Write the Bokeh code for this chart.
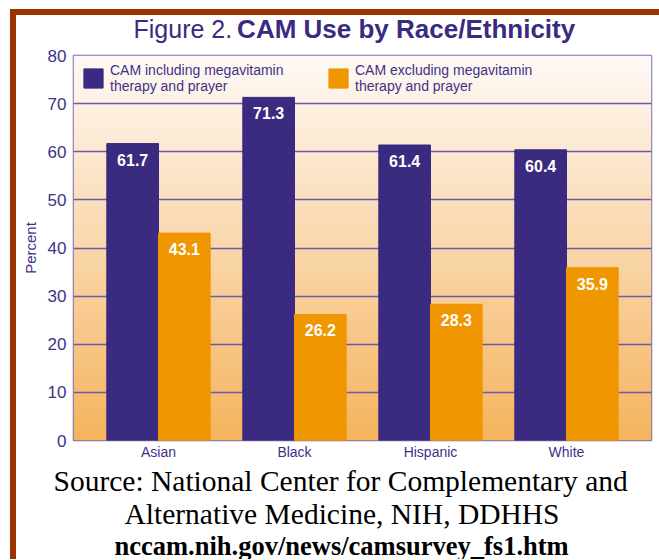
from bokeh.plotting import figure
from bokeh.layouts import column
from bokeh.models import (ColumnDataSource, LabelSet, Label, Legend, LegendItem,
                          Range1d, FixedTicker, Title)
from bokeh.core.properties import value
from bokeh.embed import file_html
from bokeh.resources import INLINE
import numpy as np

# ---- data ----
categories = ["Asian", "Black", "Hispanic", "White"]
including = [61.7, 71.3, 61.4, 60.4]
excluding = [43.1, 26.2, 28.3, 35.9]
series_names = ["CAM including megavitamin\ntherapy and prayer",
                "CAM excluding megavitamin\ntherapy and prayer"]
y_ticks = [0, 10, 20, 30, 40, 50, 60, 70, 80]
title_regular = "Figure 2."
title_bold = "CAM Use by Race/Ethnicity"
source_lines = ["Source: National Center for Complementary and",
                "Alternative Medicine, NIH, DDHHS"]
source_url = "nccam.nih.gov/news/camsurvey_fs1.htm"

# ---- styles ----
PURPLE = "#3a2a80"
ORANGE = "#f09600"
TEXT_PURPLE = "#3f3188"
GRID = "#6a5aab"
RED = "#993300"
SANS = "Liberation Sans"
SERIF = "Liberation Serif"
W = 643  # content width inside the red border

# ---- title panel (its frame is aligned with the chart frame by the column) ----
TH = 30
tp = figure(width=W, height=TH, min_border=0, x_range=Range1d(0, W),
            y_range=Range1d(0, TH), x_axis_location=None, y_axis_location=None,
            output_backend="svg", toolbar_location=None)
tp.outline_line_color = None
tp.border_fill_color = "white"
tp.background_fill_color = "white"
tp.grid.visible = False
tp.add_layout(Label(x=176.5, y=TH - 13, text=title_regular, text_align="right",
                    text_baseline="middle", text_font=SANS, text_font_size="25px",
                    text_color=PURPLE))
tp.add_layout(Label(x=182, y=TH - 13, text=title_bold, text_align="left",
                    text_baseline="middle", text_font=SANS, text_font_style="bold",
                    text_font_size="26px", text_color=PURPLE))

# ---- main chart ----
n = len(categories)
bw = 0.38
centers = [i + 0.5 for i in range(n)]
src_in = ColumnDataSource(dict(x=[c - bw / 2 for c in centers], top=including,
                               label=[f"{v:.1f}" for v in including]))
src_ex = ColumnDataSource(dict(x=[c + bw / 2 for c in centers], top=excluding,
                               label=[f"{v:.1f}" for v in excluding]))

p = figure(frame_width=578, frame_height=385,
           min_border_left=57, min_border_right=8, min_border_top=10, min_border_bottom=0,
           x_range=Range1d(-0.125, n + 0.125), y_range=Range1d(0, 80),
           output_backend="svg", toolbar_location=None)
p.border_fill_color = "white"
p.outline_line_color = "#7d6db5"
p.outline_line_width = 1.5

# gradient background (style only)
N = 256
t = np.linspace(0, 1, N)
bottom = np.array([245, 180, 94])
top = np.array([255, 250, 247])
cols = (bottom[None, :] * (1 - t[:, None]) + top[None, :] * t[:, None]).astype(np.uint32)
img = np.empty((N, 1), dtype=np.uint32)
img[:, 0] = (255 << 24) | (cols[:, 2] << 16) | (cols[:, 1] << 8) | cols[:, 0]
p.image_rgba(image=[img], x=-0.125, y=0, dw=n + 0.25, dh=80, level="image")

r_in = p.vbar(x="x", top="top", width=bw, source=src_in, fill_color=PURPLE, line_color=PURPLE)
r_ex = p.vbar(x="x", top="top", width=bw, source=src_ex, fill_color=ORANGE, line_color=ORANGE)

for s in (src_in, src_ex):
    p.add_layout(LabelSet(x="x", y="top", text="label", source=s, y_offset=-16,
                          text_align="center", text_baseline="middle", text_color="white",
                          text_font_style="bold", text_font_size="16px",
                          text_font=value(SANS)))

# axes
p.xaxis.ticker = FixedTicker(ticks=centers)
p.xaxis.major_label_overrides = {c: cat for c, cat in zip(centers, categories)}
p.yaxis.ticker = FixedTicker(ticks=y_ticks)
for ax in (p.xaxis, p.yaxis):
    ax.axis_line_color = None
    ax.major_tick_line_color = None
    ax.minor_tick_line_color = None
    ax.major_tick_in = 0
    ax.major_tick_out = 0
    ax.major_label_text_color = TEXT_PURPLE
    ax.major_label_text_font = SANS
p.xaxis.major_label_text_font_size = "14px"
p.xaxis.major_label_standoff = 3
p.yaxis.major_label_text_font_size = "17px"
p.yaxis.major_label_standoff = 7
p.yaxis.axis_label = "Percent"
p.yaxis.axis_label_text_font = SANS
p.yaxis.axis_label_text_font_style = "normal"
p.yaxis.axis_label_text_font_size = "15px"
p.yaxis.axis_label_text_color = TEXT_PURPLE
p.yaxis.axis_label_standoff = 6

p.xgrid.grid_line_color = None
p.ygrid.ticker = FixedTicker(ticks=y_ticks)
p.ygrid.grid_line_color = GRID
p.ygrid.grid_line_width = 1.5

# legends
for r, name, loc in ((r_in, series_names[0], (8, 346)), (r_ex, series_names[1], (253, 346))):
    leg = Legend(items=[LegendItem(label=name, renderers=[r])], location=loc,
                 glyph_width=24, glyph_height=24, label_standoff=5, padding=0, margin=0,
                 border_line_color=None, background_fill_alpha=0,
                 label_text_font=SANS, label_text_font_size="14px",
                 label_text_color=TEXT_PURPLE)
    p.add_layout(leg, "center")

# ---- source lines as titles below the chart (not clipped by the frame) ----
for line, off, st in zip(source_lines, (-20, 51), (0, -1)):
    p.add_layout(Title(text=line, align="left", offset=off, standoff=st,
                       text_font=SERIF, text_font_size="29.5px", text_font_style="normal",
                       text_color="black"), "below")
p.add_layout(Title(text=source_url, align="left", offset=41, standoff=-2,
                   text_font=SERIF, text_font_size="26.5px", text_font_style="bold",
                   text_color="black"), "below")

layout = column(tp, p, spacing=0,
                styles={"border-left": f"6px solid {RED}", "border-top": f"6px solid {RED}",
                        "margin-left": "10px", "margin-top": "9px"})

open("out.html", "w").write(file_html(layout, INLINE))
